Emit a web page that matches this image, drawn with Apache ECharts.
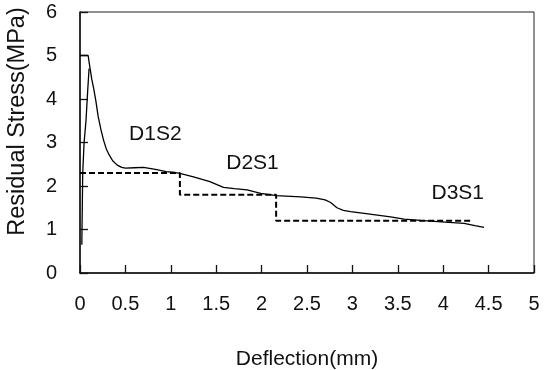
<!DOCTYPE html>
<html>
<head>
<meta charset="utf-8">
<script src="https://cdn.jsdelivr.net/npm/echarts@6/dist/echarts.min.js"></script>
<style>
  html, body { margin: 0; padding: 0; background: #fff; }
  #chart { width: 545px; height: 370px; }
</style>
</head>
<body>
<div id="chart"></div>
<script>
// Axis ticks
const xTicks = { min: 0, max: 5, step: 0.5 };
const yTicks = { min: 0, max: 6, step: 1 };

// Measured residual stress vs deflection (solid curve)
const curveX = [0.0, 0.09, 0.1, 0.115, 0.13, 0.15, 0.175, 0.2, 0.23, 0.26, 0.29, 0.32, 0.36, 0.41, 0.46, 0.5, 0.6, 0.7, 0.83, 0.95, 1.05, 1.1, 1.25, 1.43, 1.58, 1.7, 1.84, 1.99, 2.16, 2.43, 2.6, 2.7, 2.76, 2.83, 2.9, 2.98, 3.13, 3.42, 3.57, 3.75, 3.94, 4.23, 4.35, 4.45];
const curveY = [5.0, 5.0, 4.85, 4.65, 4.45, 4.25, 3.95, 3.6, 3.3, 3.05, 2.85, 2.72, 2.58, 2.48, 2.43, 2.41, 2.42, 2.43, 2.38, 2.33, 2.31, 2.29, 2.21, 2.1, 1.97, 1.94, 1.91, 1.83, 1.78, 1.75, 1.72, 1.68, 1.62, 1.5, 1.44, 1.41, 1.37, 1.29, 1.24, 1.21, 1.18, 1.14, 1.09, 1.05];

// Initial loading branch
const riseX = [0.02, 0.025, 0.03, 0.045, 0.066, 0.085, 0.1];
const riseY = [0.65, 1.5, 2.3, 3.0, 3.5, 4.2, 4.7];

// Stepped design residual strength (dashed)
const stepX = [0.0, 1.1, 1.1, 2.16, 2.16, 4.3];
const stepY = [2.3, 2.3, 1.8, 1.8, 1.2, 1.2];

// Stage labels
const labelNames = ['D1S2', 'D2S1', 'D3S1'];
const labelX = [0.83, 1.9, 4.16];
const labelY = [3.2, 2.53, 1.84];

const zip = (xs, ys) => xs.map((x, i) => [x, ys[i]]);

const chart = echarts.init(document.getElementById('chart'), null, { renderer: 'canvas' });
const font = 'Liberation Sans, Arial, Helvetica, sans-serif';
const ink = '#111';

chart.setOption({
  animation: false,
  backgroundColor: '#fff',
  grid: {
    left: 80, right: 11, top: 12, bottom: 97,
    outerBoundsMode: 'none', containLabel: false,
    show: true, borderColor: '#222', borderWidth: 1, backgroundColor: 'transparent'
  },
  xAxis: {
    type: 'value',
    min: xTicks.min, max: xTicks.max, interval: xTicks.step,
    name: 'Deflection(mm)', nameLocation: 'middle', nameGap: 76,
    nameTextStyle: { fontFamily: font, fontSize: 21, color: ink },
    axisLine: { show: true, lineStyle: { color: '#111', width: 1.5 } },
    axisTick: { show: true, inside: true, length: 8, lineStyle: { color: '#111', width: 1.3 } },
    axisLabel: { fontFamily: font, fontSize: 20, color: ink, margin: 21,
      formatter: v => String(+v.toFixed(1)) },
    splitLine: { show: false }
  },
  yAxis: {
    type: 'value',
    min: yTicks.min, max: yTicks.max, interval: yTicks.step,
    name: 'Residual Stress(MPa)', nameLocation: 'middle', nameGap: 50,
    nameTextStyle: { fontFamily: font, fontSize: 23.5, color: ink, padding: [0, 0, 0, 42] },
    axisLine: { show: true, lineStyle: { color: '#111', width: 1.5 } },
    axisTick: { show: true, inside: true, length: 8, lineStyle: { color: '#111', width: 1.3 } },
    axisLabel: { fontFamily: font, fontSize: 20, color: ink, margin: 23 },
    splitLine: { show: false }
  },
  series: [
    {
      type: 'line', data: zip(riseX, riseY), showSymbol: false, symbol: 'none',
      lineStyle: { color: '#000', width: 1.3 }
    },
    {
      type: 'line', data: zip(curveX, curveY), showSymbol: false, symbol: 'none',
      lineStyle: { color: '#000', width: 1.3 }
    },
    {
      type: 'line', data: zip(stepX, stepY), showSymbol: false, symbol: 'none',
      lineStyle: { color: '#000', width: 2, type: [6, 3] }
    },
    {
      type: 'scatter', symbolSize: 1, silent: true,
      itemStyle: { color: 'rgba(0,0,0,0)', opacity: 1 },
      data: labelNames.map((n, i) => ({ value: [labelX[i], labelY[i]], name: n })),
      label: {
        show: true, position: 'inside', formatter: p => p.name,
        fontFamily: font, fontSize: 21, color: ink, opacity: 1
      }
    }
  ]
});
</script>
</body>
</html>
